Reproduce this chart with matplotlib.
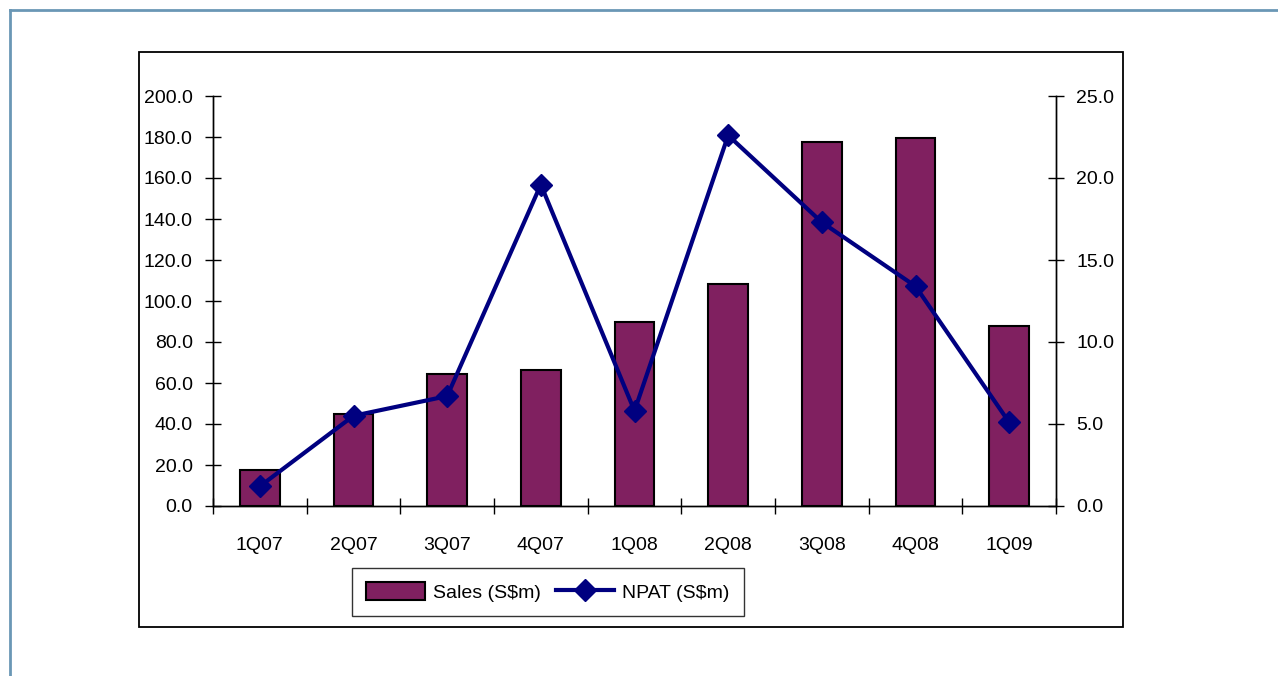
import numpy as np
import matplotlib
matplotlib.use("Agg")
import matplotlib.pyplot as plt
from matplotlib.patches import Rectangle
from matplotlib.lines import Line2D

plt.rcParams['font.family'] = ['Liberation Sans', 'DejaVu Sans']

# data
quarters = ['1Q07', '2Q07', '3Q07', '4Q07', '1Q08', '2Q08', '3Q08', '4Q08', '1Q09']
sales = [17.6, 44.9, 64.4, 66.3, 89.8, 108.3, 177.6, 179.5, 87.8]
npat = [1.2, 5.5, 6.7, 19.6, 5.8, 22.6, 17.3, 13.4, 5.1]
sales_ticks = [0, 20, 40, 60, 80, 100, 120, 140, 160, 180, 200]
npat_ticks = [0, 5, 10, 15, 20, 25]

bar_color = '#802060'
line_color = '#000080'

fig = plt.figure(figsize=(12.78, 6.76), dpi=100)

# outer page lines and chart box
fig.add_artist(Line2D([10 / 1278, 1], [1 - 10 / 676] * 2, color='#6a97b5', lw=2))
fig.add_artist(Line2D([10 / 1278] * 2, [0, 1 - 10 / 676], color='#6a97b5', lw=2))
fig.add_artist(Rectangle((139 / 1278, 1 - 627 / 676), (1123 - 139) / 1278, (627 - 52) / 676,
                         fill=False, edgecolor='black', lw=1.3, transform=fig.transFigure))

ax = fig.add_axes([213 / 1278, 1 - 506 / 676, (1056 - 213) / 1278, (506 - 96) / 676])
ax2 = ax.twinx()

x = np.arange(len(quarters))
ax.bar(x, sales, width=0.42, color=bar_color, edgecolor='black', linewidth=1.5, zorder=2)
ax2.plot(x, npat, color=line_color, lw=3, marker='D', markersize=11, zorder=3)

ax.set_xlim(-0.5, len(quarters) - 0.5)
ax.set_ylim(0, 200)
ax2.set_ylim(0, 25)
ax.set_yticks(sales_ticks)
ax.set_yticklabels([f'{v:.1f}' for v in sales_ticks])
ax2.set_yticks(npat_ticks)
ax2.set_yticklabels([f'{v:.1f}' for v in npat_ticks])

# category labels centred, ticks between categories
ax.set_xticks(np.arange(len(quarters) + 1) - 0.5)
ax.set_xticklabels([])
ax.set_xticks(x, minor=True)
ax.set_xticklabels(quarters, minor=True)
ax.tick_params(axis='x', which='minor', length=0, pad=22, labelsize=14)
ax.tick_params(axis='x', which='major', direction='inout', length=11, width=1)

ax.tick_params(axis='y', direction='inout', length=11, width=1, pad=9, labelsize=14)
ax2.tick_params(axis='y', direction='inout', length=11, width=1, pad=9, labelsize=14)

for a in (ax, ax2):
    a.spines['top'].set_visible(False)
    for s in a.spines.values():
        s.set_linewidth(1)
ax2.patch.set_visible(False)

handles = [Rectangle((0, 0), 1, 1, facecolor=bar_color, edgecolor='black', lw=1.5),
           Line2D([], [], color=line_color, lw=3, marker='D', markersize=11)]
leg = fig.legend(handles, ['Sales (S$m)', 'NPAT (S$m)'], ncol=2, loc='center',
                 bbox_to_anchor=(548 / 1278, 1 - 592 / 676), fontsize=14, frameon=True,
                 fancybox=False, edgecolor='black', handlelength=3.0, handleheight=1.0,
                 handletextpad=0.4, columnspacing=0.8, borderpad=0.75)
leg.get_frame().set_linewidth(1)

fig.savefig('out.png', dpi=100)
